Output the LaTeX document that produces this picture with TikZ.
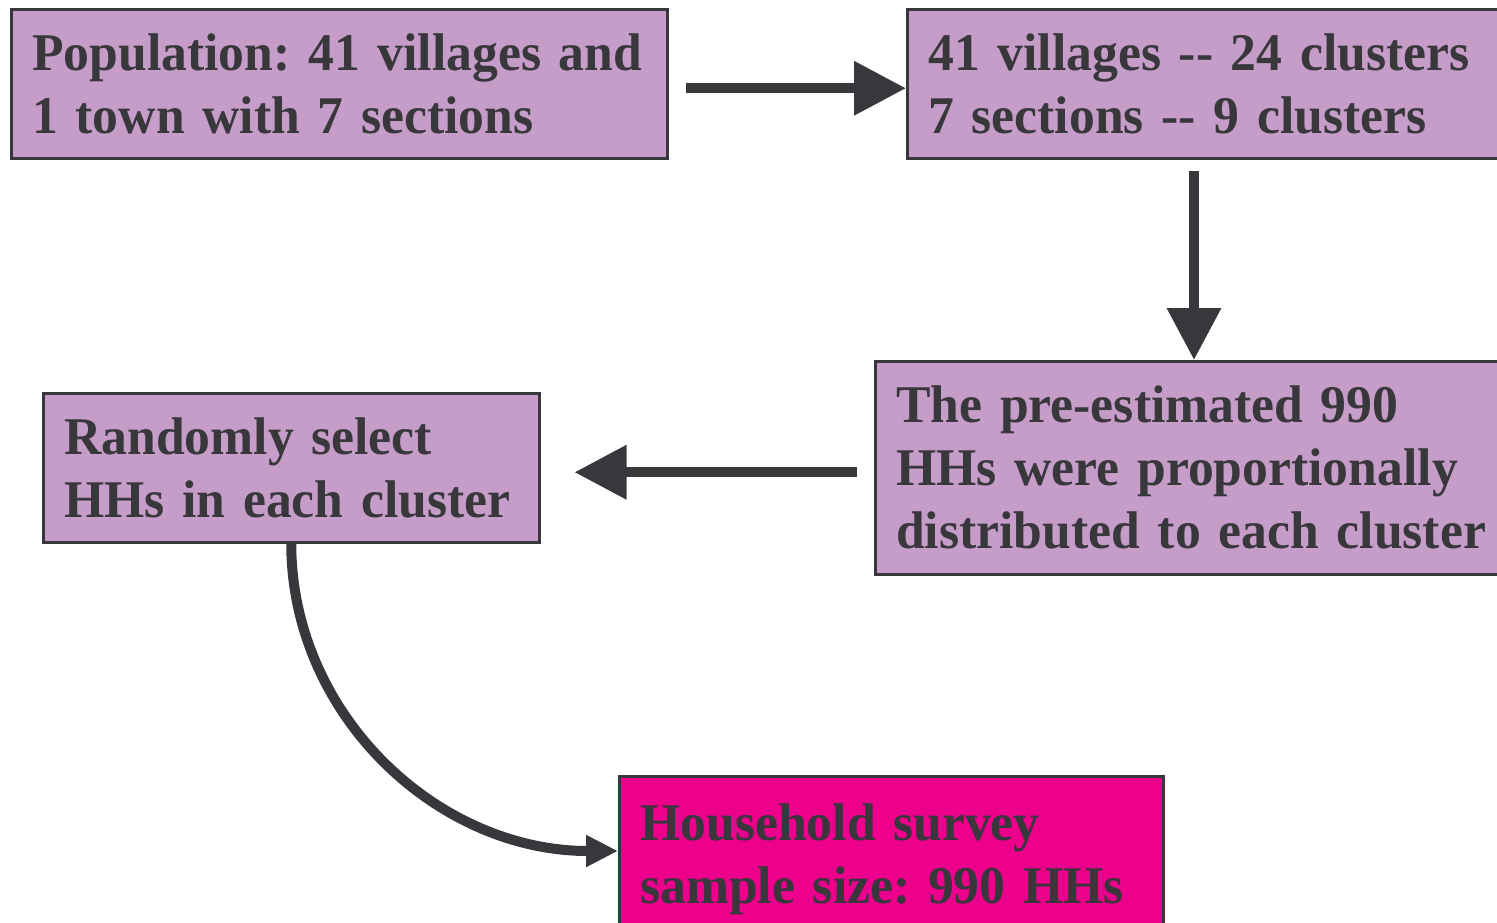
\documentclass[tikz,border=0pt]{standalone}
\usepackage{fontspec}
\setmainfont{Liberation Serif}[FakeStretch=0.975]
\usetikzlibrary{arrows.meta,calc}
\definecolor{lav}{HTML}{C69DC8}
\definecolor{mag}{HTML}{EC008C}
\definecolor{ink}{HTML}{38373C}
\frenchspacing
\newcommand\myboxfont{\fontsize{53}{63}\selectfont\bfseries\frenchspacing}
\begin{document}
\begin{tikzpicture}[x=1pt,y=-1pt,
  box/.style={draw=ink, line width=2.5pt, fill=lav, text=ink,
    font=\myboxfont, align=left,
    anchor=north west, inner xsep=21pt, inner ysep=0pt},
  arr/.style={draw=ink, line width=10pt, -{Triangle[length=52pt,width=52pt]}},
  arrc/.style={draw=ink, line width=10pt, -{Triangle[length=32pt,width=30pt]}},
]
\useasboundingbox (0,0) rectangle (1497,922);
\clip (0,0) rectangle (1497,922);
\node[box, text width=614pt, minimum height=149pt] (A) at (10,8)
  {\mbox{Population: 41 villages and}\\\mbox{1 town with 7 sections}};
\node[box, text width=578pt, minimum height=149pt] (B) at (906,8)
  {\mbox{41 villages {-}{-} 24 clusters}\\\mbox{7 sections {-}{-} 9 clusters}};
\node[box, text width=620pt, minimum height=213pt] (C) at (874,360)
  {\mbox{The pre-estimated 990}\\\mbox{HHs were proportionally}\\\mbox{distributed to each cluster}};
\node[box, text width=454pt, minimum height=149pt] (D) at (42,392)
  {\mbox{Randomly select}\\\mbox{HHs in each cluster}};
\node[box, fill=mag, text width=502pt, minimum height=166pt] (E) at (618,775)
  {\mbox{Household survey}\\\mbox{sample size: 990 HHs}};
\draw[arr] ($(A.east)+(17,4.5)$) -- ($(A.east -| B.west)+(0,4.5)$);
\draw[arr] ($(B.south west)+(288,11)$) -- ($(C.north west)+(320,0)$);
\draw[arr] ($(C.west)+(-17,4.5)$) -- ($(D.east)+(34,4.5)$);
\draw[arrc] (D.south) .. controls +(0,171) and +(-181,0) .. ($(E.north west)+(0,76)$);
\end{tikzpicture}
\end{document}
